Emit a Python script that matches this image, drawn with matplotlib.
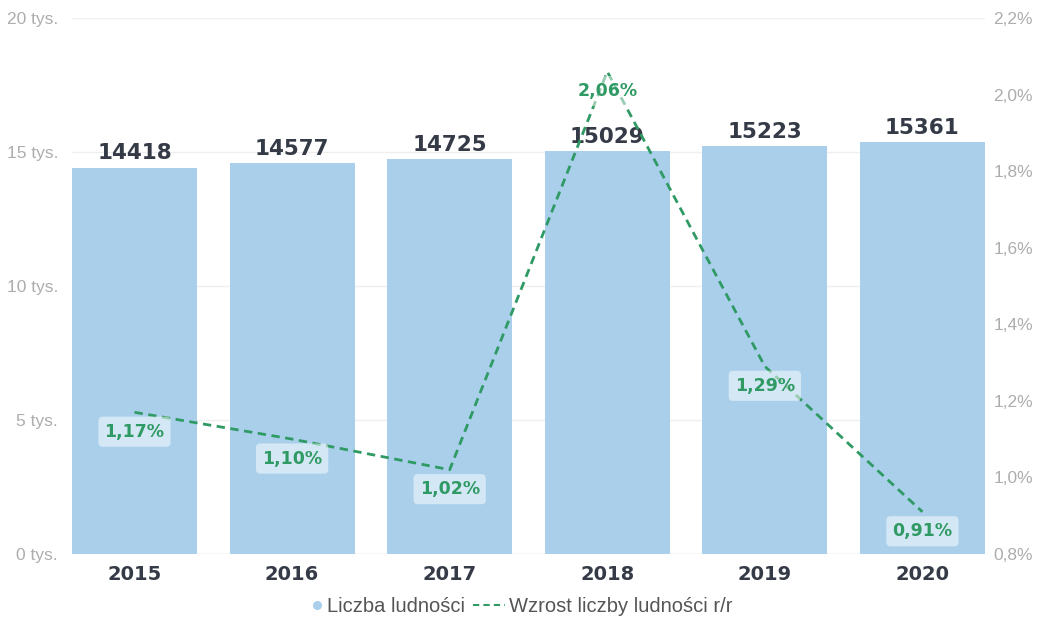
import matplotlib.pyplot as plt
from matplotlib.lines import Line2D
from matplotlib.legend_handler import HandlerLine2D
from matplotlib.ticker import FuncFormatter

years = ['2015', '2016', '2017', '2018', '2019', '2020']
population = [14418, 14577, 14725, 15029, 15223, 15361]
growth = [1.17, 1.10, 1.02, 2.06, 1.29, 0.91]
left_ticks = [0, 5000, 10000, 15000, 20000]
right_ticks = [0.8, 1.0, 1.2, 1.4, 1.6, 1.8, 2.0, 2.2]

bar_color = '#a9cfeb'
line_color = '#2f9a64'
dark = '#353a47'
grey = '#adadad'


# legend marker sits at the right end of its handle, next to the text
class RightMarker(HandlerLine2D):
    def get_xdata(self, legend, xdescent, ydescent, width, height, fontsize):
        xd = [-xdescent + width - 4]
        return xd, xd


fig = plt.figure(figsize=(10.4, 6.21), dpi=100)
ax = fig.add_axes([0.0692, 0.108, 0.8779, 0.863])
x = range(len(years))

ax.bar(x, population, width=0.794, color=bar_color, zorder=2)
ax.set_xlim(-0.397, len(years) - 1 + 0.397)
ax.set_ylim(0, 20000)
ax.set_yticks(left_ticks)
ax.yaxis.set_major_formatter(FuncFormatter(lambda v, p: '%d tys.' % (v / 1000)))
ax.grid(axis='y', color='#efefef', linewidth=1, zorder=0)
ax.set_xticks(list(x))
ax.set_xticklabels(years, fontsize=14, fontweight='bold', color=dark, family='DejaVu Sans')
ax.tick_params(axis='x', length=0, pad=8)
ax.tick_params(axis='y', length=0, pad=10, labelsize=12.5, labelcolor=grey)
for lab in ax.get_yticklabels():
    lab.set_family('Liberation Sans')
for s in ax.spines.values():
    s.set_visible(False)
ax.axhline(0, color='#e6e6e6', linewidth=1, zorder=1)

for i, v in enumerate(population):
    ax.annotate(str(v), (i, v), xytext=(0, 3), textcoords='offset points',
                ha='center', va='bottom', fontsize=15.5, fontweight='bold',
                color=dark, family='DejaVu Sans', zorder=5)

ax2 = ax.twinx()
ax2.set_ylim(0.8, 2.2)
ax2.set_yticks(right_ticks)
ax2.yaxis.set_major_formatter(FuncFormatter(lambda v, p: ('%.1f%%' % v).replace('.', ',')))
ax2.tick_params(axis='y', length=0, pad=6, labelsize=12.5, labelcolor=grey)
for lab in ax2.get_yticklabels():
    lab.set_family('Liberation Sans')
for s in ax2.spines.values():
    s.set_visible(False)

ax2.plot(list(x), growth, color=line_color, linewidth=2, linestyle=(0, (3, 2)), zorder=3)
for i, g in enumerate(growth):
    ax2.annotate(('%.2f%%' % g).replace('.', ','), (i, g), xytext=(0, -14),
                 textcoords='offset points', ha='center', va='center',
                 fontsize=12.5, fontweight='bold', color=line_color, family='DejaVu Sans',
                 bbox=dict(boxstyle='round,pad=0.35,rounding_size=0.25', fc='white',
                           ec='none', alpha=0.5),
                 zorder=6)

dot = Line2D([], [], marker='o', linestyle='none', color=bar_color, markersize=5.5)
dash = Line2D([], [], color=line_color, linewidth=1.5, linestyle=(0, (3, 2)))
leg = fig.legend([dot, dash], ['Liczba ludności', 'Wzrost liczby ludności r/r'],
                 loc='center', bbox_to_anchor=(0.492, 0.024), ncol=2, frameon=False,
                 handlelength=1.6, handletextpad=0.2, columnspacing=0.4,
                 handler_map={dot: RightMarker(numpoints=1)},
                 prop={'family': 'Liberation Sans', 'size': 14.5})
for t in leg.get_texts():
    t.set_color('#555555')

fig.savefig('out.png', dpi=100)
